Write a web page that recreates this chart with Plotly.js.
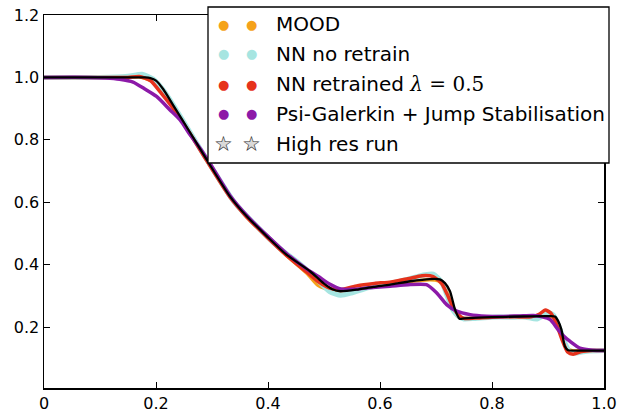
<!DOCTYPE html>
<html>
<head>
<meta charset="utf-8">
<script src="https://cdn.plot.ly/plotly-3.0.1.min.js"></script>
<style>
  html, body { margin: 0; padding: 0; background: #fff; }
  #chart { width: 624px; height: 413px; }
</style>
</head>
<body>
<div id="chart"></div>
<script>
// Density profiles of the shock tube at the final time.

// MOOD
const moodX = [0, 0.1, 0.17, 0.19, 0.21, 0.23, 0.26, 0.29, 0.332, 0.362, 0.398, 0.433, 0.47, 0.49, 0.51, 0.53, 0.558, 0.588, 0.618, 0.654, 0.689, 0.705, 0.718, 0.728, 0.738, 0.75, 0.8, 0.85, 0.9, 0.912, 0.92, 0.928, 0.936, 0.945, 0.96, 1.0];
const moodY = [1.0, 1.0, 1.002, 0.99, 0.955, 0.91, 0.825, 0.736, 0.617, 0.553, 0.489, 0.43, 0.372, 0.333, 0.32, 0.317, 0.32, 0.329, 0.336, 0.346, 0.352, 0.348, 0.32, 0.27, 0.235, 0.228, 0.232, 0.234, 0.234, 0.23, 0.2, 0.155, 0.13, 0.124, 0.125, 0.125];

// NN, no retraining
const nnX = [0, 0.1, 0.15, 0.175, 0.195, 0.215, 0.24, 0.27, 0.3, 0.34, 0.38, 0.42, 0.46, 0.49, 0.51, 0.53, 0.55, 0.58, 0.62, 0.65, 0.68, 0.695, 0.71, 0.72, 0.73, 0.74, 0.75, 0.77, 0.8, 0.84, 0.86, 0.88, 0.9, 0.91, 0.92, 0.93, 0.94, 0.95, 0.97, 1.0];
const nnY = [1.0, 1.0, 1.004, 1.01, 0.995, 0.955, 0.885, 0.797, 0.71, 0.6, 0.523, 0.454, 0.398, 0.348, 0.314, 0.302, 0.31, 0.327, 0.34, 0.354, 0.368, 0.37, 0.345, 0.3, 0.255, 0.235, 0.226, 0.228, 0.232, 0.232, 0.232, 0.226, 0.246, 0.238, 0.2, 0.15, 0.118, 0.117, 0.123, 0.125];

// NN, retrained with lambda = 0.5
const nnrX = [0, 0.1, 0.15, 0.17, 0.19, 0.21, 0.235, 0.26, 0.29, 0.332, 0.362, 0.398, 0.433, 0.47, 0.49, 0.51, 0.53, 0.56, 0.59, 0.62, 0.65, 0.675, 0.695, 0.71, 0.72, 0.73, 0.74, 0.75, 0.77, 0.8, 0.84, 0.87, 0.885, 0.895, 0.905, 0.915, 0.925, 0.935, 0.945, 0.96, 0.98, 1.0];
const nnrY = [1.0, 1.0, 1.0, 1.003, 0.99, 0.948, 0.89, 0.822, 0.735, 0.617, 0.553, 0.489, 0.43, 0.375, 0.345, 0.325, 0.32, 0.333, 0.34, 0.345, 0.355, 0.365, 0.362, 0.34, 0.305, 0.265, 0.24, 0.228, 0.229, 0.232, 0.233, 0.233, 0.242, 0.255, 0.245, 0.21, 0.16, 0.12, 0.113, 0.122, 0.125, 0.125];

// Psi-Galerkin with jump stabilisation
const psiX = [0, 0.08, 0.11, 0.135, 0.159, 0.18, 0.201, 0.225, 0.243, 0.261, 0.28, 0.3, 0.332, 0.362, 0.398, 0.433, 0.47, 0.49, 0.51, 0.53, 0.55, 0.58, 0.618, 0.65, 0.683, 0.701, 0.719, 0.737, 0.761, 0.79, 0.814, 0.85, 0.874, 0.89, 0.904, 0.918, 0.93, 0.939, 0.957, 0.98, 1.0];
const psiY = [1.0, 1.0, 0.998, 0.994, 0.985, 0.963, 0.939, 0.896, 0.864, 0.816, 0.77, 0.714, 0.622, 0.558, 0.494, 0.436, 0.385, 0.362, 0.338, 0.322, 0.321, 0.326, 0.331, 0.336, 0.336, 0.31, 0.272, 0.251, 0.24, 0.235, 0.234, 0.236, 0.237, 0.233, 0.224, 0.192, 0.168, 0.155, 0.133, 0.126, 0.125];

// High resolution reference run
const refX = [0, 0.1, 0.18, 0.19, 0.2, 0.213, 0.23, 0.26, 0.29, 0.332, 0.362, 0.398, 0.433, 0.475, 0.499, 0.514, 0.529, 0.558, 0.588, 0.618, 0.654, 0.689, 0.707, 0.716, 0.725, 0.734, 0.742, 0.75, 0.8, 0.85, 0.9, 0.9125, 0.918, 0.924, 0.93, 0.936, 0.95, 1.0];
const refY = [1.0, 1.0, 1.0, 0.998, 0.99, 0.962, 0.913, 0.826, 0.738, 0.619, 0.555, 0.491, 0.432, 0.379, 0.341, 0.322, 0.315, 0.32, 0.329, 0.336, 0.347, 0.354, 0.353, 0.341, 0.315, 0.256, 0.227, 0.228, 0.232, 0.234, 0.235, 0.234, 0.22, 0.192, 0.139, 0.126, 0.125, 0.125];

const seriesNames = ['MOOD', 'NN no retrain',
  'NN retrained <span style="font-family:\'DejaVu Serif\'"><i>λ</i> = 0.5</span>',
  'Psi-Galerkin + Jump Stabilisation', 'High res run'];
const seriesColors = ['#f5a21b', '#a6e5e1', '#e6321c', '#8c1aa8', '#000000'];

const xTickVals = [0, 0.2, 0.4, 0.6, 0.8, 1.0];
const xTickText = ['0', '0.2', '0.4', '0.6', '0.8', '1.0'];
const yTickVals = [0.2, 0.4, 0.6, 0.8, 1.0, 1.2];
const yTickText = ['0.2', '0.4', '0.6', '0.8', '1.0', '1.2'];

function band(x, y, color, width) {
  return {
    x: x, y: y, type: 'scatter', mode: 'lines',
    line: { color: color, width: width, shape: 'spline', smoothing: 0.6 },
    showlegend: false, hoverinfo: 'skip'
  };
}

const traces = [
  band(moodX, moodY, seriesColors[0], 3.5),
  band(nnX, nnY, seriesColors[1], 5),
  band(nnrX, nnrY, seriesColors[2], 3.5),
  band(psiX, psiY, seriesColors[3], 3.5),
  band(refX, refY, seriesColors[4], 2.3)
];

// Plot area geometry in pixels (used for the boxed legend)
const W = 624, H = 413;
const M = { l: 44, r: 20, t: 15, b: 25 };
const pw = W - M.l - M.r, ph = H - M.t - M.b;
const px = v => (v - M.l) / pw;
const py = v => (H - M.b - v) / ph;

const legendBox = { x0: 208, x1: 609, y0: 7, y1: 163 };
const rowTop = 24, rowStep = 30;
const markerCols = [223, 251];
const textCol = 274;

const shapes = [{
  type: 'rect', xref: 'paper', yref: 'paper', layer: 'above',
  x0: px(legendBox.x0), x1: px(legendBox.x1),
  y0: py(legendBox.y1), y1: py(legendBox.y0),
  line: { color: '#000', width: 1.3 }, fillcolor: '#fff'
}];

const annotations = [];
seriesNames.forEach((name, i) => {
  const yy = py(rowTop + rowStep * i);
  markerCols.forEach(mx => {
    if (i < seriesNames.length - 1) {
      annotations.push({
        xref: 'paper', yref: 'paper', x: px(mx), y: yy,
        xanchor: 'center', yanchor: 'middle', showarrow: false,
        text: '●', font: { family: 'DejaVu Sans', size: 13, color: seriesColors[i] }
      });
    } else {
      annotations.push({
        xref: 'paper', yref: 'paper', x: px(mx), y: yy,
        xanchor: 'center', yanchor: 'middle', showarrow: false,
        text: '★', font: { family: 'DejaVu Sans', size: 21, color: '#dadada' }
      });
      annotations.push({
        xref: 'paper', yref: 'paper', x: px(mx), y: yy,
        xanchor: 'center', yanchor: 'middle', showarrow: false,
        text: '☆', font: { family: 'DejaVu Sans', size: 21, color: '#333' }
      });
    }
  });
  annotations.push({
    xref: 'paper', yref: 'paper', x: px(textCol), y: yy,
    xanchor: 'left', yanchor: 'middle', showarrow: false,
    text: name, font: { family: 'DejaVu Sans', size: 20, color: '#000' }
  });
});

const axisCommon = {
  showgrid: false, zeroline: false,
  showline: true, mirror: 'ticks', linecolor: '#000', linewidth: 1.5,
  ticks: 'inside', ticklen: 6, tickwidth: 1, tickcolor: '#000',
  tickfont: { family: 'DejaVu Sans', size: 16, color: '#000' }
};

const layout = {
  width: W, height: H,
  margin: M,
  paper_bgcolor: '#fff', plot_bgcolor: '#fff',
  showlegend: false,
  xaxis: Object.assign({}, axisCommon, {
    range: [0, 1], tickmode: 'array', tickvals: xTickVals, ticktext: xTickText
  }),
  yaxis: Object.assign({}, axisCommon, {
    range: [0.005, 1.2], tickmode: 'array', tickvals: yTickVals, ticktext: yTickText
  }),
  shapes: shapes,
  annotations: annotations
};

Plotly.newPlot('chart', traces, layout, { staticPlot: true, displayModeBar: false });
</script>
</body>
</html>
